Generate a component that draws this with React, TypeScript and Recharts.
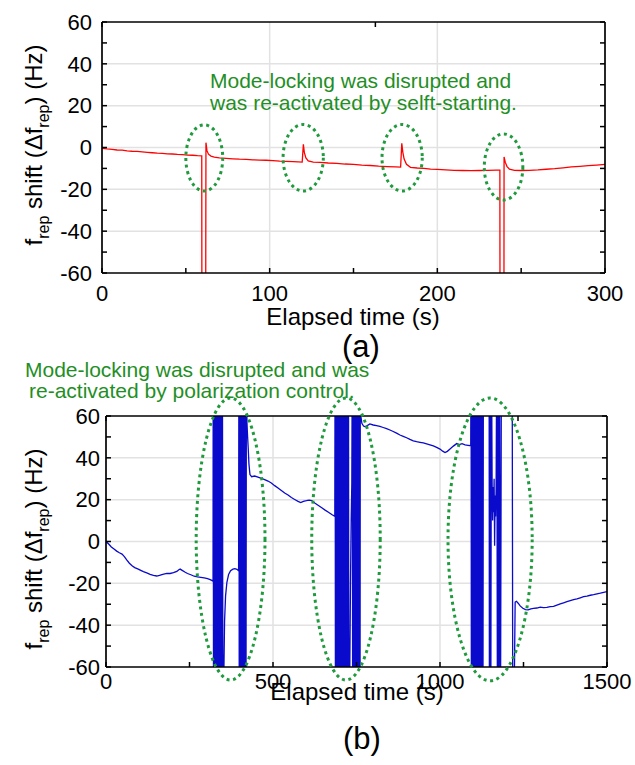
import React from 'react';
import { LineChart, Line, XAxis, YAxis, ReferenceLine, ReferenceArea } from 'recharts';

const FONT = '"Liberation Sans", Arial, Helvetica, sans-serif';
const GREEN_TEXT = '#1f8f25';
const GREEN_DOTS = '#1f9a3c';

// (a) self-starting run: [elapsed time (s), f_rep shift (Hz)]
const topTrace: [number, number][] = [
  [0, -0.4], [3, -0.7], [6, -0.9], [9, -1.2], [12, -1.3], [15, -1.6], [18, -1.8], [21, -1.9], [24, -2.1],
  [27, -2.3], [30, -2.5], [33, -2.7], [36, -2.8], [39, -3.0], [42, -3.1], [45, -3.3], [48, -3.4], [51, -3.6],
  [54, -3.7], [57, -3.9], [59.5, -4.0],
  [59.6, -100], [61.8, -100], [62.0, 2.3], [62.6, -1.5], [63.5, -3.2], [65, -4.1], [67, -4.6], [70, -5.0],
  [74, -5.2], [78, -5.4], [82, -5.6], [86, -5.7], [90, -5.9], [94, -6.0], [98, -6.1], [102, -6.3],
  [106, -6.5], [110, -6.6], [114, -6.8], [117, -6.9], [119.4, -7.0],
  [120.1, 1.5], [120.7, -2.5], [121.6, -5.0], [123, -6.4], [126, -7.0], [130, -7.1], [135, -7.4], [140, -7.6],
  [145, -7.9], [150, -8.1], [155, -8.4], [160, -8.6], [165, -8.9], [170, -9.1], [175, -9.3], [178.1, -9.4],
  [178.8, 2.0], [179.4, -2.2], [180.2, -5.5], [181.6, -8.0], [184, -9.5], [188, -9.8], [192, -10.0], [196, -10.3],
  [200, -10.5], [205, -10.7], [210, -10.9], [215, -11.0], [220, -11.1], [225, -11.0], [230, -10.9], [235, -10.8],
  [237.3, -10.8],
  [237.4, -100], [239.7, -100], [239.8, -4.5], [240.5, -7.0], [241.5, -9.0], [243, -10.4], [246, -10.9],
  [250, -11.0], [255, -10.9], [260, -10.7], [265, -10.4], [270, -10.1], [275, -9.7], [280, -9.3], [285, -9.0],
  [290, -8.7], [295, -8.4], [300, -8.1],
];

// (b) polarization-control run: [elapsed time (s), f_rep shift (Hz)]
const bottomTrace: [number, number][] = [
  [0, 0], [8, -1.2], [16, -2.6], [24, -3.6], [32, -4.6], [40, -5.4], [48, -6.0], [55, -7.2], [62, -8.8],
  [70, -10.4], [78, -11.6], [86, -12.5], [95, -13.1], [104, -13.8], [112, -14.4], [122, -15.0], [132, -15.7],
  [142, -16.2], [152, -16.5], [160, -16.2], [170, -15.7], [182, -15.2], [192, -15.3], [202, -14.9], [212, -14.3],
  [218, -13.5], [222, -13.2], [228, -13.8], [236, -14.6], [244, -15.3], [254, -15.9], [264, -16.6], [274, -16.9],
  [284, -17.1], [294, -17.4], [304, -17.7], [312, -18.2], [318, -18.7], [320.5, -19.0],
  [321, 100], [322, -100], [323, 100], [324, -100], [325.5, 100], [326.5, -100], [328, 100], [329, -100],
  [330.5, 100], [331.5, -100], [333, 100], [334, -100], [335.5, 100], [336.5, -100], [338, 100], [339, -100],
  [340.5, 100], [341.5, -100], [343, 100], [344, -100], [345.5, 100], [346.5, -100], [348.5, 100], [350, -100],
  [351, -100],
  [353, -62], [355, -38], [358, -26], [362, -19.5], [367, -15.8], [373, -14.0], [380, -13.2], [386, -13.0],
  [392, -13.3], [397, -14.0],
  [398, 100], [399, -100], [400.5, 100], [401.5, -100], [403, 100], [404, -100], [405.5, 100], [406.5, -100],
  [408, 100], [409, -100], [410.5, 100], [411.5, -100], [413, 100], [414, -100], [415.5, 100], [416.5, -100],
  [418, 100], [419, -100], [420.5, 100],
  [422, 57], [424, 50], [426, 44], [428, 37], [431, 32], [436, 31], [445, 31.3], [455, 30.8], [465, 30.2],
  [475, 29.6], [485, 28.9], [495, 28.0], [505, 26.7], [515, 25.6], [525, 24.4], [535, 23.2], [545, 22.2],
  [555, 21.0], [565, 20.1], [575, 19.2], [583, 18.6], [591, 19.2], [600, 19.5], [608, 19.8], [616, 19.6],
  [626, 18.3], [636, 17.2], [646, 16.1], [656, 15.0], [666, 14.0], [676, 12.9], [685, 12.0],
  [686, 100], [687, -100], [688.5, 100], [689.5, -100], [691, 100], [692, -100], [693.5, 100], [694.5, -100],
  [696, 100], [697, -100], [698.5, 100], [699.5, -100], [701, 100], [702, -100], [703.5, 100], [704.5, -100],
  [706, 100], [707, -100], [708.5, 100], [709.5, -100], [711, 100], [712, -100], [713.5, 100], [714.5, -100],
  [716, 100], [717, -100], [718.5, 100], [719.5, -100], [721, 100], [722, -100], [723.5, 100], [724.5, -100],
  [726, 100], [727, -100],
  [730, -60], [732, -20], [734, 10], [736, 28], [737.5, 100],
  [738.5, -100], [739.5, 100], [740.5, -100], [742, 100], [743, -100], [744.5, 100], [745.5, -100], [747, 100],
  [748, -100], [749.5, 100], [750.5, -100], [752, 100], [753, -100], [754.5, 100], [755.5, -100], [757, 100],
  [758, -100], [759.5, 100], [760.5, -100], [761.5, 100],
  [763, 60], [766, 56.5], [771, 55.2], [776, 54.9], [781, 55.3], [790, 56.2], [800, 55.7], [810, 55.4],
  [820, 55.0], [830, 54.5], [840, 54.0], [850, 53.3], [860, 52.6], [870, 51.8], [880, 50.9], [890, 50.3],
  [900, 49.6], [910, 48.8], [920, 48.1], [930, 47.7], [940, 47.4], [950, 47.1], [960, 46.7], [970, 46.2],
  [980, 45.7], [990, 45.0], [1000, 44.2], [1008, 43.2], [1015, 42.5], [1022, 43.1], [1030, 44.2], [1040, 45.6],
  [1050, 46.8], [1058, 46.3], [1066, 46.8], [1075, 46.2], [1084, 46.0], [1092, 45.8],
  [1093, 100], [1094, -100], [1095.5, 100], [1096.5, -100], [1098, 100], [1099, -100], [1100.5, 100],
  [1101.5, -100], [1103, 100], [1104, -100], [1105.5, 100], [1106.5, -100], [1108, 100], [1109, -100],
  [1111, 100], [1112, -100], [1114, 100], [1115, -100], [1117, 100], [1118, -100], [1120, 100], [1121.5, -100],
  [1123.5, 100], [1125, -100], [1127, 100], [1128.5, -100], [1130, 100],
  [1147, 100], [1148, -100], [1150, 100], [1152, -100], [1154, 100], [1156, 28], [1157.5, 10], [1159, 26],
  [1160.5, 14], [1162, 30], [1163.5, -2], [1165, 22], [1166.5, 12], [1168, 25], [1170, 100], [1172, -100],
  [1174, 100], [1176, -100], [1178, 100], [1181, -100], [1184, 100],
  [1216, 100], [1218, -100], [1221, -100], [1223, -60], [1225, -29], [1229, -28.6], [1234, -29.5],
  [1240, -30.8], [1248, -31.9], [1256, -32.6], [1264, -32.7], [1272, -32.2], [1280, -32.0], [1290, -31.8],
  [1300, -31.4], [1310, -31.6], [1320, -31.5], [1330, -31.1], [1340, -31.0], [1350, -30.4], [1360, -29.8],
  [1370, -29.3], [1380, -28.8], [1390, -28.3], [1400, -27.8], [1410, -27.4], [1420, -26.9], [1430, -26.4],
  [1440, -26.1], [1450, -25.7], [1460, -25.4], [1470, -25.0], [1480, -24.7], [1490, -24.3], [1500, -24.0],
];

const yTicks = [-60, -50, -40, -30, -20, -10, 0, 10, 20, 30, 40, 50, 60];
const yLabelled = [-60, -40, -20, 0, 20, 40, 60];
const yGrid = [-40, -20, 0, 20, 40];

const topXTicks = [0, 50, 100, 150, 200, 250, 300];
const topXLabelled = [0, 100, 200, 300];
const topXGrid = [100, 200];

const bottomXTicks = [0, 250, 500, 750, 1000, 1250, 1500];
const bottomXLabelled = [0, 500, 1000, 1500];
const bottomXGrid = [500, 1000];

// dotted loops around the disruption events, in data units: [t1, t2, v1, v2]
const topLoops: [number, number, number, number][] = [
  [50, 72, -20.8, 10.8],
  [108, 132, -20.8, 11.0],
  [167, 191, -20.8, 11.0],
  [228, 251, -25.1, 6.5],
];
const bottomLoops: [number, number, number, number][] = [
  [270, 476, -66.2, 68.6],
  [616, 821, -66.2, 68.6],
  [1024, 1276, -66.6, 68.6],
];

const topNote = ['Mode-locking was disrupted and', 'was re-activated by selft-starting.'];
const bottomNote = ['Mode-locking was disrupted and was', 're-activated by polarization control.'];
const xTitle = 'Elapsed time (s)';
const panelTags = ['(a)', '(b)'];

const LoopShape = (p: any) => {
  const { x, y, width, height } = p;
  return (
    <ellipse
      cx={x + width / 2}
      cy={y + height / 2}
      rx={Math.abs(width) / 2}
      ry={Math.abs(height) / 2}
      fill="none"
      stroke={GREEN_DOTS}
      strokeWidth={3}
      strokeDasharray="3 3.6"
    />
  );
};

type PanelProps = {
  trace: [number, number][];
  color: string;
  xDomain: [number, number];
  xTicks: number[];
  xLabelled: number[];
  xGrid: number[];
  loops: [number, number, number, number][];
  width: number;
  height: number;
  margin: { top: number; right: number; bottom: number; left: number };
  xTickMargin: number;
  yTickMargin: number;
};

function Panel(props: PanelProps) {
  const { trace, color, xDomain, xTicks, xLabelled, xGrid, loops, width, height, margin, xTickMargin, yTickMargin } = props;
  const data = trace.map(([t, v]) => ({ t, v }));
  const tickStyle = { fill: '#000', fontSize: 22, fontFamily: FONT };
  const axisLine = { stroke: '#000', strokeWidth: 1.7 };
  const tickLine = { stroke: '#000', strokeWidth: 1.5 };
  return (
    <LineChart width={width} height={height} data={data} margin={margin}>
      {yGrid.map((g) => (
        <ReferenceLine key={'gy' + g} xAxisId="b" yAxisId="l" y={g} stroke="#e2e2e2" strokeWidth={1.5} />
      ))}
      {xGrid.map((g) => (
        <ReferenceLine key={'gx' + g} xAxisId="b" yAxisId="l" x={g} stroke="#e2e2e2" strokeWidth={1.5} />
      ))}
      <XAxis
        xAxisId="b"
        dataKey="t"
        type="number"
        domain={xDomain}
        ticks={xTicks}
        interval={0}
        allowDataOverflow
        tickFormatter={(v: number) => (xLabelled.includes(v) ? String(v) : '')}
        tick={tickStyle}
        tickSize={-5}
        tickMargin={xTickMargin}
        axisLine={axisLine}
        tickLine={tickLine}
        height={30}
      />
      <XAxis
        xAxisId="t"
        orientation="top"
        type="number"
        domain={xDomain}
        ticks={xTicks}
        interval={0}
        allowDataOverflow
        tickFormatter={() => ''}
        tickSize={-5}
        axisLine={axisLine}
        tickLine={tickLine}
        height={10}
      />
      <YAxis
        yAxisId="l"
        type="number"
        domain={[-60, 60]}
        ticks={yTicks}
        interval={0}
        allowDataOverflow
        tickFormatter={(v: number) => (yLabelled.includes(v) ? String(v) : '')}
        tick={tickStyle}
        tickSize={-5}
        tickMargin={yTickMargin}
        axisLine={axisLine}
        tickLine={tickLine}
        width={40}
      />
      <YAxis
        yAxisId="r"
        orientation="right"
        type="number"
        domain={[-60, 60]}
        ticks={yTicks}
        interval={0}
        allowDataOverflow
        tickFormatter={() => ''}
        tickSize={-5}
        axisLine={axisLine}
        tickLine={tickLine}
        width={10}
      />
      <Line
        xAxisId="b"
        yAxisId="l"
        dataKey="v"
        type="linear"
        stroke={color}
        strokeWidth={1.3}
        dot={false}
        activeDot={false}
        isAnimationActive={false}
      />
      {loops.map(([t1, t2, v1, v2], i) => (
        <ReferenceArea
          key={'loop' + i}
          xAxisId="b"
          yAxisId="l"
          x1={t1}
          x2={t2}
          y1={v1}
          y2={v2}
          ifOverflow="visible"
          shape={LoopShape}
          zIndex={900}
        />
      ))}
    </LineChart>
  );
}

function YTitle({ cx, cy }: { cx: number; cy: number }) {
  return (
    <text
      x={cx}
      y={cy}
      textAnchor="middle"
      transform={`rotate(-90 ${cx} ${cy})`}
      fontFamily={FONT}
      fontSize={24}
      fill="#000"
    >
      <tspan>f</tspan>
      <tspan dy={7} fontSize={16}>rep</tspan>
      <tspan dy={-7}> shift (Δf</tspan>
      <tspan dy={7} fontSize={16}>rep</tspan>
      <tspan dy={-7}>) (Hz)</tspan>
    </text>
  );
}

export default function App() {
  return (
    <div style={{ position: 'absolute', left: 0, top: 0, width: 635, height: 765, background: '#fff' }}>
      <div style={{ position: 'absolute', left: 0, top: 0 }}>
        <Panel
          trace={topTrace}
          color="#ff0000"
          xDomain={[0, 300]}
          xTicks={topXTicks}
          xLabelled={topXLabelled}
          xGrid={topXGrid}
          loops={topLoops}
          width={635}
          height={360}
          margin={{ top: 12, right: 20, bottom: 57, left: 62 }}
          xTickMargin={17}
          yTickMargin={15}
        />
      </div>
      <div style={{ position: 'absolute', left: 0, top: 360 }}>
        <Panel
          trace={bottomTrace}
          color="#0a0acc"
          xDomain={[0, 1500]}
          xTicks={bottomXTicks}
          xLabelled={bottomXLabelled}
          xGrid={bottomXGrid}
          loops={bottomLoops}
          width={635}
          height={405}
          margin={{ top: 46, right: 18, bottom: 68, left: 66 }}
          xTickMargin={11}
          yTickMargin={11}
        />
      </div>
      <svg
        width={635}
        height={765}
        style={{ position: 'absolute', left: 0, top: 0, pointerEvents: 'none' }}
      >
        <text x={210} y={88} fontFamily={FONT} fontSize={21} fill={GREEN_TEXT}>{topNote[0]}</text>
        <text x={210} y={110} fontFamily={FONT} fontSize={21} fill={GREEN_TEXT}>{topNote[1]}</text>
        <text x={25} y={377} fontFamily={FONT} fontSize={21} fill={GREEN_TEXT}>{bottomNote[0]}</text>
        <text x={29} y={398} fontFamily={FONT} fontSize={21} fill={GREEN_TEXT}>{bottomNote[1]}</text>
        <text x={353} y={325} textAnchor="middle" fontFamily={FONT} fontSize={24} fill="#000">{xTitle}</text>
        <text x={357} y={700} textAnchor="middle" fontFamily={FONT} fontSize={24} fill="#000">{xTitle}</text>
        <text x={361} y={357} textAnchor="middle" fontFamily={FONT} fontSize={31} fill="#000">{panelTags[0]}</text>
        <text x={362} y={749} textAnchor="middle" fontFamily={FONT} fontSize={31} fill="#000">{panelTags[1]}</text>
        <YTitle cx={42} cy={145} />
        <YTitle cx={42} cy={549} />
      </svg>
    </div>
  );
}
